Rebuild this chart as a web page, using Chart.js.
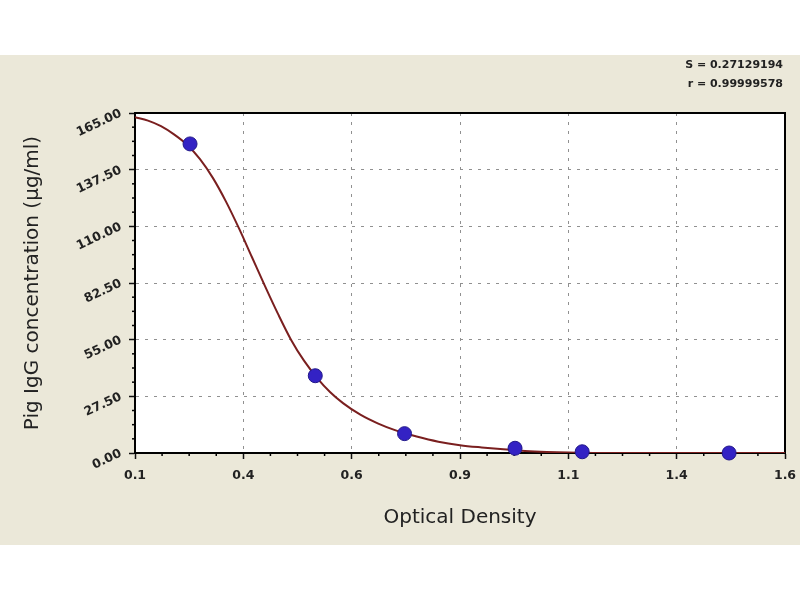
<!DOCTYPE html>
<html>
<head>
<meta charset="utf-8">
<script src="https://cdn.jsdelivr.net/npm/chart.js@4.4.1/dist/chart.umd.min.js"></script>
<style>
html,body{margin:0;padding:0;background:#fff;}
#wrap{width:800px;height:600px;position:relative;}
</style>
</head>
<body>
<div id="wrap"><canvas id="c"></canvas></div>
<script>
// Standard points (optical density vs concentration)
const stdOD   = [0.227, 0.516, 0.722, 0.977, 1.132, 1.471];
const stdConc = [150, 37.5, 9.4, 2.3, 0.6, 0];

// Fitted curve
const fitOD   = [0.100, 0.130, 0.160, 0.190, 0.220, 0.250, 0.280, 0.310, 0.340, 0.370,
                 0.400, 0.430, 0.460, 0.490, 0.520, 0.550, 0.580, 0.620, 0.660, 0.700,
                 0.750, 0.800, 0.850, 0.900, 0.950, 1.000, 1.050, 1.100, 1.173, 1.600];
const fitConc = [163.0, 161.3, 158.6, 154.6, 149.6, 142.6, 133.4, 122.0, 109.0, 95.0,
                 81.0, 67.5, 55.0, 44.8, 36.5, 29.6, 24.2, 18.6, 14.4, 11.1,
                 8.0, 5.5, 3.8, 2.7, 1.8, 1.0, 0.5, 0.2, 0.0, 0.0];

// Axis ticks
const xTickValues = [0.1, 0.35, 0.6, 0.85, 1.1, 1.35, 1.6];
const xTickLabels = ['0.1', '0.4', '0.6', '0.9', '1.1', '1.4', '1.6'];
const yTickValues = [0, 27.5, 55, 82.5, 110, 137.5, 165];
const yTickLabels = ['0.00', '27.50', '55.00', '82.50', '110.00', '137.50', '165.00'];

const fitStats = ['S = 0.27129194', 'r = 0.99999578'];

const xTitle = 'Optical Density';
const yTitle = 'Pig IgG concentration (\u00b5g/ml)';

function withMinors(majors) {
  const out = [];
  for (let i = 0; i < majors.length; i++) {
    out.push({value: majors[i]});
    if (i < majors.length - 1) {
      const d = (majors[i + 1] - majors[i]) / 4;
      for (let k = 1; k < 4; k++) out.push({value: majors[i] + k * d});
    }
  }
  return out;
}
function majorIndex(vals, v) {
  for (let i = 0; i < vals.length; i++) if (Math.abs(vals[i] - v) < 1e-6) return i;
  return -1;
}

const bgPlugin = {
  id: 'bg',
  beforeDraw(chart) {
    const ctx = chart.ctx, a = chart.chartArea;
    ctx.save();
    ctx.fillStyle = '#ffffff';
    ctx.fillRect(0, 0, chart.width, chart.height);
    ctx.fillStyle = '#ebe8d9';
    ctx.fillRect(0, 55, chart.width, 490);
    ctx.fillStyle = '#ffffff';
    ctx.fillRect(a.left, a.top, a.right - a.left, a.bottom - a.top);
    ctx.restore();
  },
  beforeDatasetsDraw(chart) {
    const ctx = chart.ctx, a = chart.chartArea;
    ctx.save();
    ctx.strokeStyle = '#000';
    ctx.lineWidth = 2;
    ctx.beginPath();
    ctx.moveTo(a.left, a.top);
    ctx.lineTo(a.right, a.top);
    ctx.lineTo(a.right, a.bottom);
    ctx.stroke();
    // minor ticks (shorter) on both axes
    ctx.lineWidth = 1.5;
    const xs = chart.scales.x, ys = chart.scales.y;
    xs.ticks.forEach(t => {
      if (majorIndex(xTickValues, t.value) < 0) {
        const px = xs.getPixelForValue(t.value);
        ctx.beginPath(); ctx.moveTo(px, a.bottom); ctx.lineTo(px, a.bottom + 3); ctx.stroke();
      }
    });
    ys.ticks.forEach(t => {
      if (majorIndex(yTickValues, t.value) < 0) {
        const py = ys.getPixelForValue(t.value);
        ctx.beginPath(); ctx.moveTo(a.left, py); ctx.lineTo(a.left - 3, py); ctx.stroke();
      }
    });
    ctx.restore();
  },
  afterDraw(chart) {
    const ctx = chart.ctx;
    ctx.save();
    ctx.fillStyle = '#222';
    ctx.font = 'bold 11px "DejaVu Sans"';
    ctx.textAlign = 'right';
    ctx.textBaseline = 'middle';
    ctx.fillText(fitStats[0], 783, 65);
    ctx.fillText(fitStats[1], 783, 84);
    ctx.restore();
  }
};

const tickFont = {family: '"DejaVu Sans"', size: 12.5, weight: 'bold'};
const titleFont = {family: '"DejaVu Sans"', size: 20};

function gridColor(vals) {
  return ctx => (ctx.tick && majorIndex(vals, ctx.tick.value) >= 0 ? '#909090' : 'rgba(0,0,0,0)');
}
function tickColor(vals) {
  return ctx => (ctx.tick && majorIndex(vals, ctx.tick.value) >= 0 ? '#111' : 'rgba(0,0,0,0)');
}

new Chart(document.getElementById('c'), {
  type: 'scatter',
  data: {
    datasets: [
      {
        type: 'line',
        label: 'fit',
        data: fitOD.map((x, i) => ({x: x, y: fitConc[i]})),
        borderColor: '#7a1f1f',
        borderWidth: 2,
        pointRadius: 0,
        fill: false,
        cubicInterpolationMode: 'monotone',
        order: 2
      },
      {
        label: 'standards',
        data: stdOD.map((x, i) => ({x: x, y: stdConc[i]})),
        backgroundColor: '#3322c4',
        borderColor: '#22188a',
        borderWidth: 1,
        pointRadius: 7,
        pointHoverRadius: 7,
        order: 1,
        clip: false
      }
    ]
  },
  options: {
    responsive: true,
    maintainAspectRatio: false,
    animation: false,
    events: [],
    layout: {padding: {left: 0, top: 113, right: 15, bottom: 70}},
    plugins: {legend: {display: false}, tooltip: {enabled: false}, title: {display: false}},
    scales: {
      x: {
        type: 'linear',
        min: 0.1,
        max: 1.6,
        afterBuildTicks(scale) { scale.ticks = withMinors(xTickValues); },
        afterFit(scale) { scale.height = 77; scale.paddingLeft = 0; scale.paddingRight = 0; },
        ticks: {
          autoSkip: false,
          maxRotation: 0,
          minRotation: 0,
          padding: 9,
          color: '#222',
          font: tickFont,
          callback(v) { const i = majorIndex(xTickValues, v); return i >= 0 ? xTickLabels[i] : ''; }
        },
        grid: {
          color: gridColor(xTickValues),
          lineWidth: 1,
          tickColor: tickColor(xTickValues),
          tickLength: 6,
          tickWidth: 1.5
        },
        border: {display: true, color: '#000', width: 2, dash: [3, 6]},
        title: {display: true, text: xTitle, color: '#222', font: titleFont, padding: {top: 0, bottom: 0}}
      },
      y: {
        type: 'linear',
        min: 0,
        max: 165,
        afterBuildTicks(scale) { scale.ticks = withMinors(yTickValues); },
        afterFit(scale) { scale.width = 135; scale.paddingTop = 0; scale.paddingBottom = 0; },
        ticks: {
          autoSkip: false,
          minRotation: 25,
          maxRotation: 25,
          padding: 8,
          color: '#222',
          font: tickFont,
          callback(v) { const i = majorIndex(yTickValues, v); return i >= 0 ? yTickLabels[i] : ''; }
        },
        grid: {
          color: gridColor(yTickValues),
          lineWidth: 1,
          tickColor: tickColor(yTickValues),
          tickLength: 6,
          tickWidth: 1.5
        },
        border: {display: true, color: '#000', width: 2, dash: [3, 6]},
        title: {display: true, text: yTitle, color: '#222', font: titleFont, padding: {top: 21, bottom: 0}}
      }
    }
  },
  plugins: [bgPlugin]
});
</script>
</body>
</html>
